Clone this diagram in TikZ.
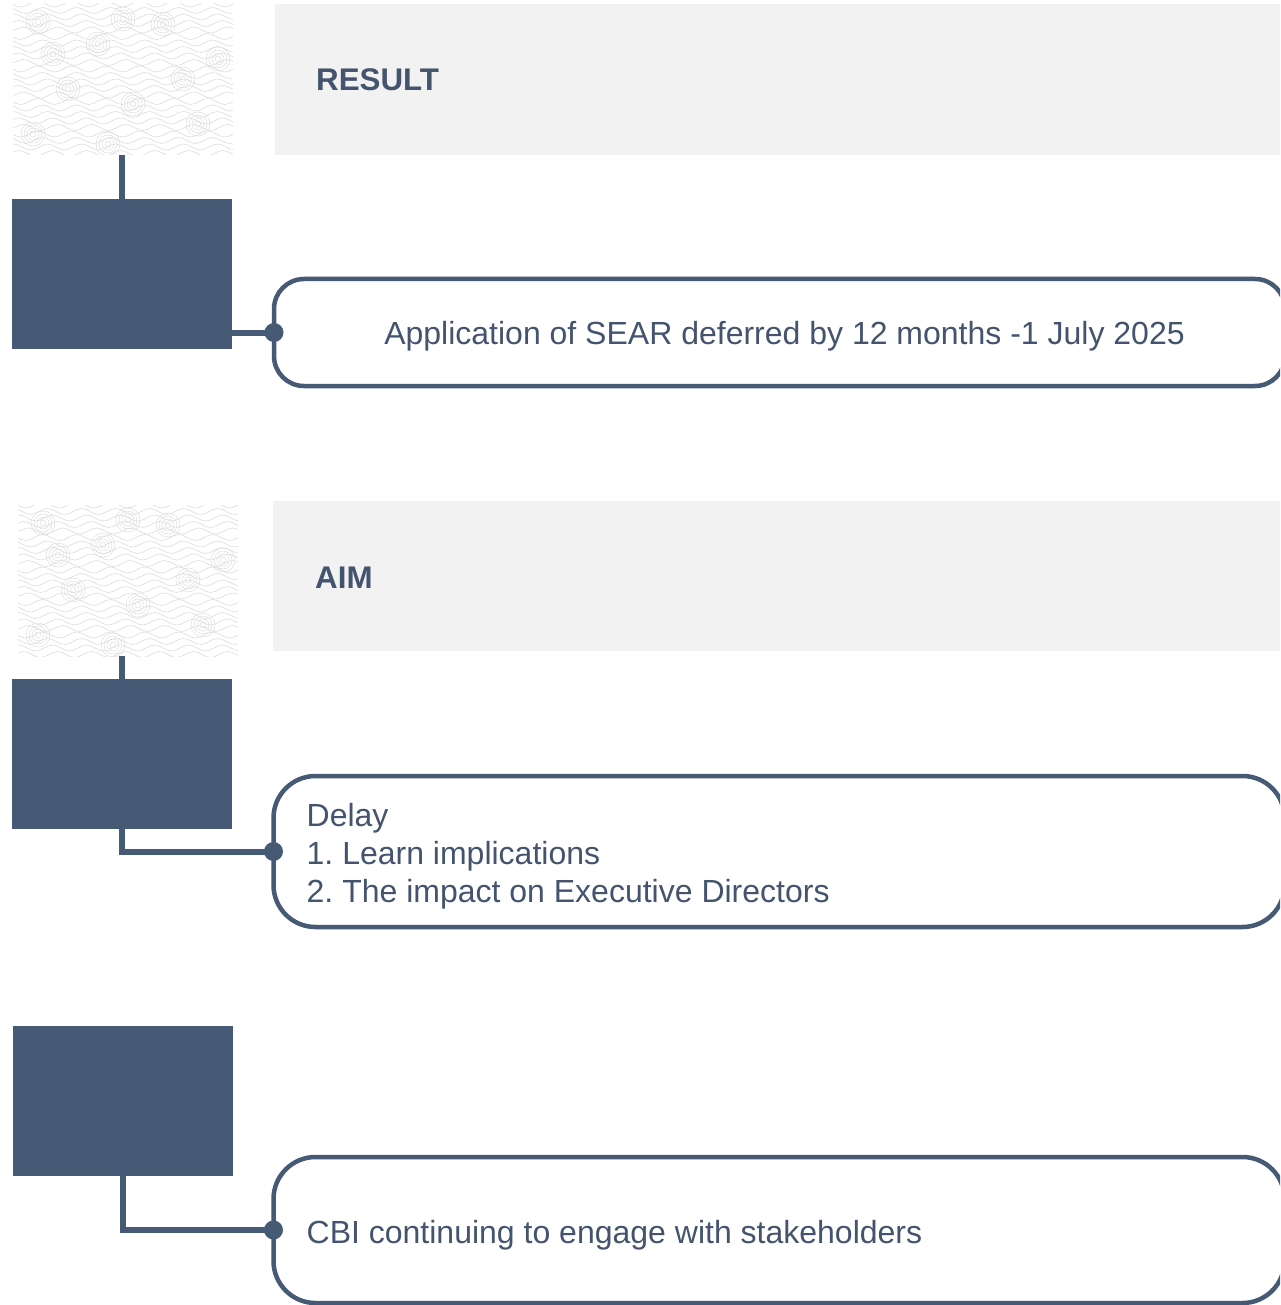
\documentclass[tikz,border=0pt]{standalone}
\usepackage{fontspec}
\setmainfont{Liberation Sans}
\frenchspacing
\usetikzlibrary{decorations.pathmorphing,calc}
\definecolor{slate}{HTML}{465A75}
\definecolor{txt}{HTML}{44546E}
\definecolor{panel}{HTML}{F2F2F2}
\definecolor{wave}{HTML}{DEDEDE}
\tikzset{
 darkbox/.style={fill=slate, minimum width=220, minimum height=150, inner sep=0, outer sep=0},
 texbox/.style={minimum width=220, minimum height=151, inner sep=0, outer sep=0},
 panelbox/.style={fill=panel, minimum width=1010, inner sep=0, outer sep=0},
 card/.style={draw=slate, line width=4.5, fill=white, inner sep=0, outer sep=0, minimum width=1011},
 conn/.style={draw=slate, line width=6},
 headtxt/.style={font=\fontsize{31.3}{36}\selectfont\bfseries, text=txt, anchor=west, inner sep=0},
 bodytxt/.style={font=\fontsize{32}{38}\selectfont, text=txt, inner sep=0},
 texline/.style={draw=wave, line width=0.6, decorate, decoration={snake, amplitude=3, segment length=34}},
 swirl/.style={draw=wave, line width=0.5},
}
\newcommand\wavetex[1]{%
 \begin{scope}
 \clip (#1.south west) rectangle (#1.north east);
 \foreach \k in {0,...,24} { \path[texline] ($(#1.north west)+({-20+5*mod(\k,5)},{\k*6.5})$) -- ++(270,0); }
 \foreach \a/\b in {25/18,85/40,150/20,205/55,55/85,120/100,185/120,20/130,95/140,170/75,110/15,40/50} {
   \foreach \r in {3,6,9,12} { \draw[swirl] ($(#1.north west)+(\a,\b)$) circle (\r); }
 }
 \end{scope}}
\begin{document}
\begin{tikzpicture}[x=1pt,y=-1pt]
\clip (0,0) rectangle (1280,1305);
\fill[white] (0,0) rectangle (1280,1305);
% section 1
\node[texbox] (tex1) at (123,79.5) {};
\wavetex{tex1}
\node[panelbox, minimum height=151] (panel1) at (780,79.5) {};
\node[headtxt] (h1) at (316,80) {RESULT};
\node[darkbox] (dark1) at (122,274) {};
\node[card, minimum height=107, rounded corners=30] (card1) at (779.5,332.5) {};
\node[bodytxt] (t1) at ([xshift=5,yshift=-4]card1.center) {Application of SEAR deferred by 12 months -1 July 2025};
\draw[conn] (dark1.north |- tex1.south) -- (dark1.north);
\draw[conn] (card1.west -| dark1.east) -- (card1.west);
\fill[slate] (card1.west) circle (9.5);
% section 2
\node[texbox] (tex2) at (128,580.5) {};
\wavetex{tex2}
\node[panelbox, minimum height=150] (panel2) at (778,576) {};
\node[headtxt] (h2) at (315,578) {AIM};
\node[darkbox] (dark2) at (122,754) {};
\node[card, minimum height=151, rounded corners=42] (card2) at (779,851.5) {};
\node[bodytxt, anchor=west, align=left] (t2) at ([xshift=33,yshift=-5]card2.west) {Delay\\1. Learn implications\\2. The impact on Executive Directors};
\draw[conn] (dark2.north |- tex2.south) -- (dark2.north);
\draw[conn] (dark2.south) |- (card2.west);
\fill[slate] (card2.west) circle (9.5);
% section 3
\node[darkbox] (dark3) at (123,1101) {};
\node[card, minimum height=146, rounded corners=42] (card3) at (779,1230) {};
\node[bodytxt, anchor=west] (t3) at ([xshift=33,yshift=-5]card3.west) {CBI continuing to engage with stakeholders};
\draw[conn] (dark3.south) |- (card3.west);
\fill[slate] (card3.west) circle (9.5);
\end{tikzpicture}
\end{document}
